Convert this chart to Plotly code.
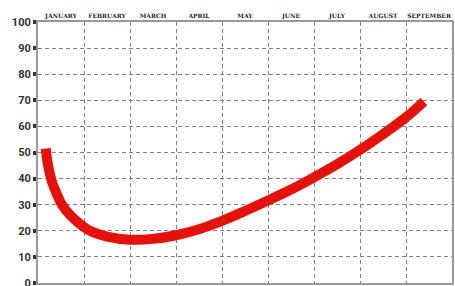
import plotly.graph_objects as go

months = ["JANUARY", "FEBRUARY", "MARCH", "APRIL", "MAY", "JUNE", "JULY", "AUGUST", "SEPTEMBER"]
month_pos = [0.5, 1.5, 2.5, 3.5, 4.5, 5.5, 6.5, 7.5, 8.5]
grid_x = [1, 2, 3, 4, 5, 6, 7, 8]
y_ticks = [0, 10, 20, 30, 40, 50, 60, 70, 80, 90, 100]

curve_x = [0.17, 0.2, 0.25, 0.3, 0.4, 0.52, 0.7, 0.9, 1.13, 1.5, 2.0, 2.5, 3.0, 3.5,
           4.0, 4.5, 5.0, 5.5, 6.0, 6.5, 7.0, 7.5, 8.0, 8.39]
curve_y = [51.5, 47, 42.5, 39, 34.5, 30, 26, 22.8, 20, 17.8, 16.6, 16.9, 18.3, 20.6,
           23.8, 27.6, 31.6, 35.8, 40.5, 45.5, 51, 57, 63.5, 69.5]

fig = go.Figure()
fig.add_trace(go.Scatter(
    x=curve_x, y=curve_y, mode="lines",
    line=dict(color="#e3120b", width=10, shape="spline", smoothing=1.0),
    hoverinfo="skip", showlegend=False,
))

fig.update_layout(
    width=455, height=286,
    margin=dict(l=38, r=3, t=22, b=3),
    paper_bgcolor="white", plot_bgcolor="white",
    xaxis=dict(
        range=[0, 9], side="top", automargin=False,
        tickvals=month_pos, ticktext=months, ticklabeloverflow="allow",
        tickfont=dict(family="DejaVu Serif", size=6, color="#222", weight="bold"),
        ticks="", showgrid=False, zeroline=False,
        showline=True, linecolor="#999", linewidth=2, mirror=True,
        minor=dict(tickvals=grid_x, showgrid=True, gridcolor="#7f7f7f",
                   griddash="4px,3px", gridwidth=1, ticks=""),
        fixedrange=True,
    ),
    yaxis=dict(
        range=[0, 100], tickvals=y_ticks, automargin=False, ticklabeloverflow="allow",
        tickfont=dict(family="Roboto", size=11, color="#333", weight="bold"),
        ticks="outside", ticklen=3, tickwidth=4, tickcolor="#333",
        showgrid=True, gridcolor="#7f7f7f", griddash="4px,3px", gridwidth=1,
        zeroline=False,
        showline=True, linecolor="#999", linewidth=2, mirror=True,
        fixedrange=True,
    ),
)

fig.write_html("out.html", config={"displayModeBar": False},
               post_script="document.body.style.margin='0';document.body.style.overflow='hidden';")
